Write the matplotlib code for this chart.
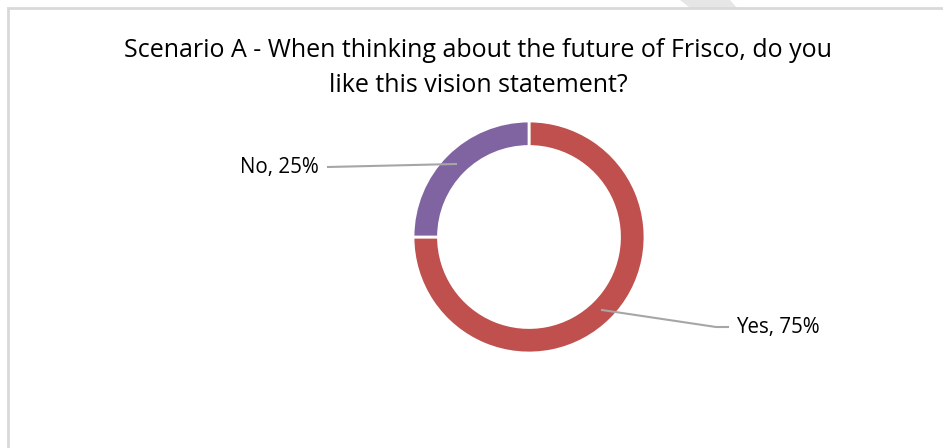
import numpy as np
import matplotlib
matplotlib.use("Agg")
import matplotlib.pyplot as plt
from matplotlib.patches import Polygon

# survey answers
labels = ["Yes", "No"]
shares = [75, 25]
colors = ["#C0504D", "#8064A2"]
title = "Scenario A - When thinking about the future of Frisco, do you\nlike this vision statement?"

W, H = 943, 448
plt.rcParams['font.family'] = ['Open Sans', 'DejaVu Sans']

fig = plt.figure(figsize=(W / 100, H / 100), dpi=100)
ax = fig.add_axes([0, 0, 1, 1])

# ring geometry (pixel units, y up)
cx, cy = 529, 211
r_out = 116
ring_w = 25.5

wedges, _ = ax.pie(shares, colors=colors, startangle=90, counterclock=False,
                   center=(cx, cy), radius=r_out,
                   wedgeprops=dict(width=ring_w, edgecolor="white", linewidth=2))

ax.set_xlim(0, W)
ax.set_ylim(0, H)
ax.set_aspect("equal")
ax.axis("off")

# chart frame, only top and left edges are in view
ax.plot([8, 8, W + 5], [-5, H - 8, H - 8], color="#d9d9d9", lw=2, solid_joinstyle="miter")
ax.add_patch(Polygon([[680, H], [730, H], [737, H - 8], [690, H - 8]],
                     closed=True, color="#e6e6e6", lw=0))

# leader lines and data labels
r_mid = r_out - ring_w / 2
label_pos = {"No": [(328, 281)], "Yes": [(716, 121), (728, 121)]}
text_pos = {"No": (319, 281, "right"), "Yes": (736, 121, "left")}
for w, lab, val in zip(wedges, labels, shares):
    ang = np.deg2rad((w.theta1 + w.theta2) / 2)
    px, py = cx + r_mid * np.cos(ang), cy + r_mid * np.sin(ang)
    pts = [(px, py)] + label_pos[lab]
    ax.plot([p[0] for p in pts], [p[1] for p in pts], color="#a6a6a6", lw=1.5)
    tx, ty, ha = text_pos[lab]
    ax.text(tx, ty, f"{lab}, {val}%", ha=ha, va="center", fontsize=14.8, color="#000000")

ax.text(478, H - 68, title, ha="center", va="center", fontsize=18,
        linespacing=1.56, color="#000000")

fig.savefig("out.png", dpi=100)
